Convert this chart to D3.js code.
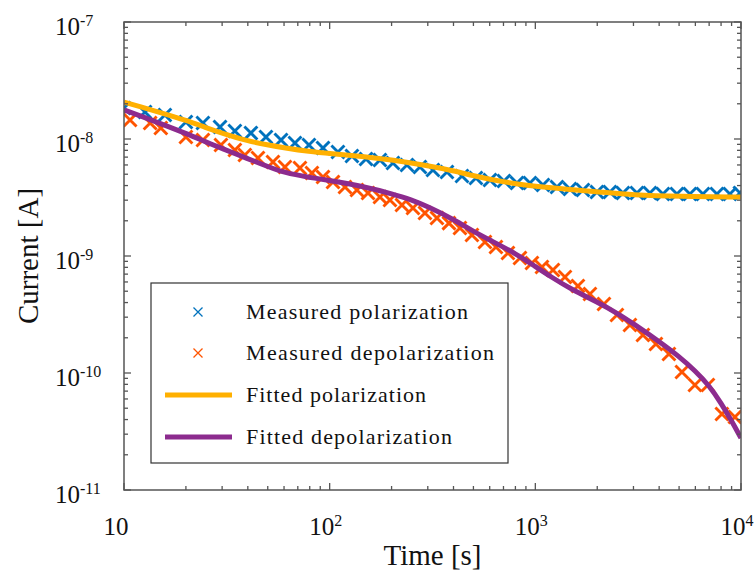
<!DOCTYPE html>
<html>
<head>
<meta charset="utf-8">
<script src="https://cdn.jsdelivr.net/npm/d3@7"></script>
<style>
  html, body { margin: 0; padding: 0; background: #fff; }
  svg { display: block; font-family: "Liberation Serif", "DejaVu Serif", serif; }
</style>
</head>
<body>
<svg id="chart" width="756" height="572"></svg>
<script>
// ---------------- data ----------------
const timeMeasuredPol = [10.0, 12.65, 15.8, 20.0, 24.2, 29.3, 34.6, 41.4, 49.0, 58.0, 67.8, 79.3, 92.8, 109.7, 128.3, 150.2, 175.6, 203.1, 237.6, 274.8, 317.8, 371.8, 439.8, 514.3, 601.6, 703.7, 813.9, 941.5, 1089, 1274, 1473, 1704, 1993, 2305, 2666, 3119, 3607, 4172, 4880, 5645, 6529, 7637, 8834, 9879];
const currentMeasuredPol = [1.841e-8, 1.701e-8, 1.603e-8, 1.397e-8, 1.370e-8, 1.266e-8, 1.171e-8, 1.125e-8, 1.040e-8, 9.80e-9, 9.24e-9, 8.89e-9, 8.38e-9, 7.74e-9, 7.16e-9, 6.75e-9, 6.61e-9, 6.23e-9, 5.99e-9, 5.76e-9, 5.43e-9, 5.22e-9, 4.83e-9, 4.64e-9, 4.46e-9, 4.38e-9, 4.21e-9, 4.21e-9, 4.04e-9, 3.89e-9, 3.74e-9, 3.66e-9, 3.52e-9, 3.52e-9, 3.46e-9, 3.46e-9, 3.46e-9, 3.39e-9, 3.39e-9, 3.39e-9, 3.39e-9, 3.39e-9, 3.39e-9, 3.46e-9];

const timeMeasuredDepol = [10.7, 13.4, 15.1, 20.0, 24.2, 29.6, 34.6, 38.7, 44.8, 53.0, 60.6, 71.7, 82.0, 92.8, 103.8, 118.7, 135.7, 153.6, 175.6, 196.4, 224.6, 254.1, 290.6, 332.4, 380.2, 430.0, 491.8, 568.9, 643.5, 735.9, 841.9, 962.8, 1077, 1218, 1393, 1611, 1843, 2156, 2493, 2884, 3335, 3858, 4462, 5161, 5969, 6905, 8077, 9341];
const currentMeasuredDepol = [1.453e-8, 1.370e-8, 1.242e-8, 1.040e-8, 9.80e-9, 8.89e-9, 8.05e-9, 7.30e-9, 6.88e-9, 6.36e-9, 5.76e-9, 5.65e-9, 5.12e-9, 4.73e-9, 4.29e-9, 3.89e-9, 3.66e-9, 3.46e-9, 3.19e-9, 3.01e-9, 2.73e-9, 2.57e-9, 2.33e-9, 2.11e-9, 1.91e-9, 1.735e-9, 1.512e-9, 1.317e-9, 1.194e-9, 1.061e-9, 9.61e-10, 8.71e-10, 8.05e-10, 7.59e-10, 6.61e-10, 5.54e-10, 4.73e-10, 3.89e-10, 3.13e-10, 2.57e-10, 2.11e-10, 1.77e-10, 1.453e-10, 1.02e-10, 7.89e-11, 7.89e-11, 4.46e-11, 4.21e-11];

const timeFitPol = [10, 12, 15, 20, 25, 30, 40, 50, 60, 80, 100, 150, 200, 300, 400, 500, 600, 800, 1000, 1500, 2000, 3000, 5000, 10000];
const currentFitPol = [2.07e-8, 1.889e-8, 1.681e-8, 1.445e-8, 1.251e-8, 1.121e-8, 9.6e-9, 8.89e-9, 8.41e-9, 7.80e-9, 7.51e-9, 7.06e-9, 6.64e-9, 5.92e-9, 5.35e-9, 4.85e-9, 4.53e-9, 4.14e-9, 3.95e-9, 3.68e-9, 3.54e-9, 3.32e-9, 3.23e-9, 3.19e-9];

const timeFitDepol = [10, 12, 15, 20, 25, 30, 40, 50, 60, 80, 100, 150, 200, 250, 300, 400, 500, 600, 800, 1000, 1200, 1500, 2000, 2500, 3000, 4000, 5000, 6000, 7000, 8000, 9000, 10000];
const currentFitDepol = [1.77e-8, 1.576e-8, 1.36e-8, 1.117e-8, 9.45e-9, 8.28e-9, 6.78e-9, 5.82e-9, 5.16e-9, 4.69e-9, 4.42e-9, 3.89e-9, 3.41e-9, 3.03e-9, 2.64e-9, 2.06e-9, 1.62e-9, 1.37e-9, 1.054e-9, 8.13e-10, 6.58e-10, 5.18e-10, 4.04e-10, 3.25e-10, 2.64e-10, 1.86e-10, 1.384e-10, 1.04e-10, 7.82e-11, 5.54e-11, 3.89e-11, 2.78e-11];

const xTickExponents = [1, 2, 3, 4];
const yTickExponents = [-11, -10, -9, -8, -7];
const legendLabels = ["Measured polarization", "Measured depolarization", "Fitted polarization", "Fitted depolarization"];
const xTitle = "Time [s]";
const yTitle = "Current [A]";

// ---------------- layout / style ----------------
const colors = { pol: "#0072BD", depol: "#FF5400", fitPol: "#FFB000", fitDepol: "#8C2B8E" };
const axisColor = "#555";
const L = 124, R = 741, T = 22, B = 490;

const svg = d3.select("#chart");
const x = d3.scaleLog().domain([10, 1e4]).range([L, R]);
const y = d3.scaleLog().domain([1e-11, 1e-7]).range([B, T]);

const zip = (a, b) => a.map((v, i) => [v, b[i]]);

svg.append("clipPath").attr("id", "clip").append("rect")
  .attr("x", L).attr("y", T).attr("width", R - L).attr("height", B - T);

const plot = svg.append("g").attr("clip-path", "url(#clip)");

function xMarker(sel, s) {
  return sel.attr("d", `M${-s},${-s}L${s},${s}M${-s},${s}L${s},${-s}`);
}

plot.append("g").selectAll("path").data(zip(timeMeasuredPol, currentMeasuredPol)).join("path")
  .call(xMarker, 6.5)
  .attr("transform", d => `translate(${x(d[0])},${y(d[1])})`)
  .attr("stroke", colors.pol).attr("stroke-width", 2.9).attr("fill", "none");

plot.append("g").selectAll("path").data(zip(timeMeasuredDepol, currentMeasuredDepol)).join("path")
  .call(xMarker, 6.5)
  .attr("transform", d => `translate(${x(d[0])},${y(d[1])})`)
  .attr("stroke", colors.depol).attr("stroke-width", 2.9).attr("fill", "none");

const line = d3.line().x(d => x(d[0])).y(d => y(d[1])).curve(d3.curveBasis);

plot.append("path").datum(zip(timeFitPol, currentFitPol))
  .attr("d", line).attr("fill", "none").attr("stroke", colors.fitPol).attr("stroke-width", 5);
plot.append("path").datum(zip(timeFitDepol, currentFitDepol))
  .attr("d", line).attr("fill", "none").attr("stroke", colors.fitDepol).attr("stroke-width", 5);

// ---------------- axes ----------------
const ax = svg.append("g");
ax.append("rect").attr("x", L).attr("y", T).attr("width", R - L).attr("height", B - T)
  .attr("fill", "none").attr("stroke", axisColor).attr("stroke-width", 1.5);

const isMajor = v => Math.abs(Math.log10(v) - Math.round(Math.log10(v))) < 1e-9;
x.ticks().forEach(v => {
  const px = x(v), len = isMajor(v) ? 7 : 4;
  ax.append("line").attr("x1", px).attr("x2", px).attr("y1", B).attr("y2", B - len).attr("stroke", axisColor).attr("stroke-width", 1.3);
  ax.append("line").attr("x1", px).attr("x2", px).attr("y1", T).attr("y2", T + len).attr("stroke", axisColor).attr("stroke-width", 1.3);
});
y.ticks().forEach(v => {
  const py = y(v), len = isMajor(v) ? 7 : 4;
  ax.append("line").attr("x1", L).attr("x2", L + len).attr("y1", py).attr("y2", py).attr("stroke", axisColor).attr("stroke-width", 1.3);
  ax.append("line").attr("x1", R).attr("x2", R - len).attr("y1", py).attr("y2", py).attr("stroke", axisColor).attr("stroke-width", 1.3);
});

xTickExponents.forEach(e => {
  const px = x(Math.pow(10, e));
  const t = svg.append("text").attr("y", 535).attr("font-size", 25).attr("fill", "#111");
  if (e === 1) {
    t.attr("x", px - 8).attr("text-anchor", "middle").text("10");
  } else {
    t.attr("x", px - 4).attr("text-anchor", "middle");
    t.append("tspan").text("10");
    t.append("tspan").attr("dy", -9).attr("font-size", 16).text(String(e));
  }
});

yTickExponents.forEach(e => {
  const py = y(Math.pow(10, e));
  const t = svg.append("text").attr("x", 55).attr("y", py + 13).attr("font-size", 25).attr("fill", "#111");
  t.append("tspan").text("10");
  t.append("tspan").attr("dy", -9).attr("font-size", 16).text(String(e));
});

svg.append("text").attr("x", (L + R) / 2).attr("y", 565).attr("text-anchor", "middle")
  .attr("font-size", 29).attr("fill", "#111").text(xTitle);
svg.append("text").attr("transform", `translate(38,${(T + B) / 2}) rotate(-90)`).attr("text-anchor", "middle")
  .attr("font-size", 29).attr("fill", "#111").text(yTitle);

// ---------------- legend ----------------
const lg = svg.append("g");
lg.append("rect").attr("x", 151).attr("y", 283).attr("width", 357).attr("height", 180)
  .attr("fill", "#fff").attr("stroke", "#333").attr("stroke-width", 1.2);
const rowY = [312, 353, 395, 437];
const textW = [222, 248, 180, 206];
const legendColors = [colors.pol, colors.depol, colors.fitPol, colors.fitDepol];
legendLabels.forEach((lab, i) => {
  const cy = rowY[i];
  if (i < 2) {
    lg.append("path").call(xMarker, 4.5).attr("transform", `translate(198,${cy})`)
      .attr("stroke", legendColors[i]).attr("stroke-width", 1.3).attr("fill", "none");
  } else {
    lg.append("line").attr("x1", 165).attr("x2", 232).attr("y1", cy).attr("y2", cy)
      .attr("stroke", legendColors[i]).attr("stroke-width", 5);
  }
  lg.append("text").attr("x", 246).attr("y", cy + 7).attr("font-size", 22).attr("fill", "#111")
    .attr("textLength", textW[i]).attr("lengthAdjust", "spacing").text(lab);
});
</script>
</body>
</html>
